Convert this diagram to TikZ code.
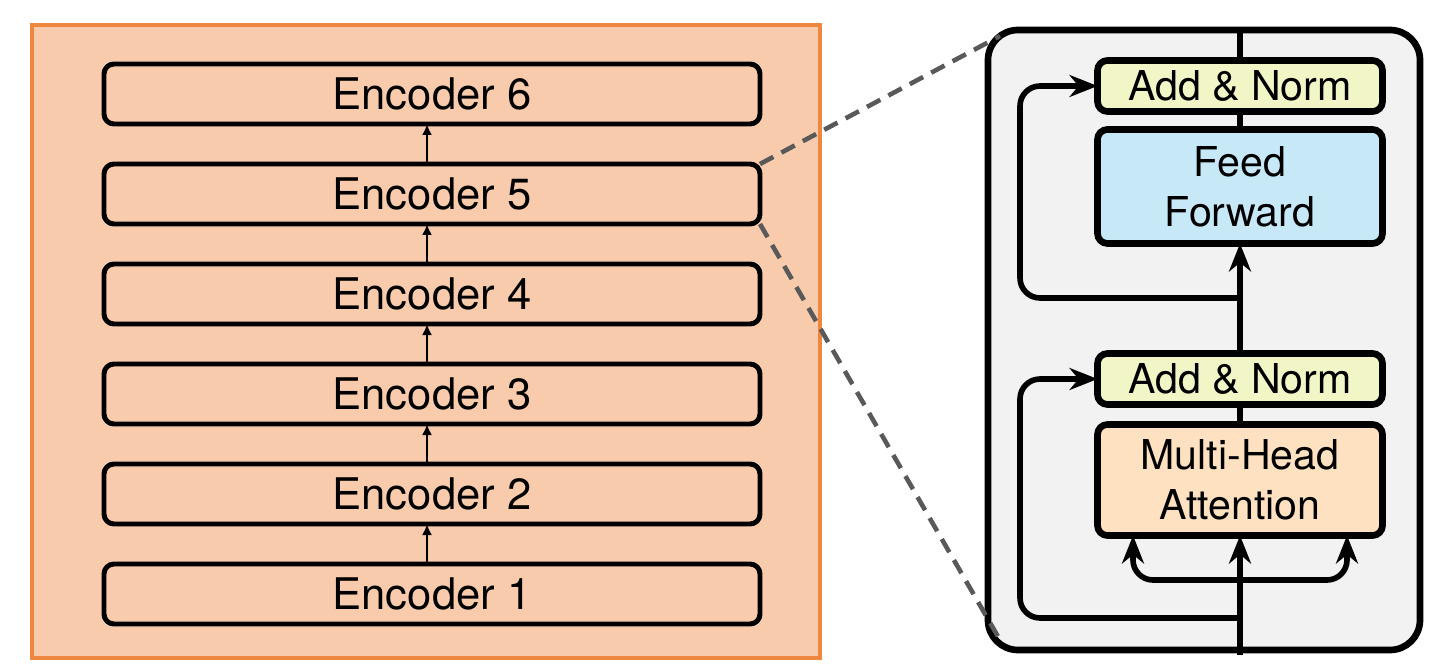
\documentclass[tikz,border=0pt]{standalone}
\usepackage{fontspec}
\setmainfont{TeX Gyre Heros}
\usepackage{xcolor}
\usepackage{tikz}
\usetikzlibrary{positioning,arrows.meta}

\definecolor{stackfill}{HTML}{F8CBAD}
\definecolor{stackline}{HTML}{EE8740}
\definecolor{panelfill}{HTML}{F2F2F2}
\definecolor{normfill}{HTML}{F2F5C6}
\definecolor{ffnfill}{HTML}{C6E8F7}
\definecolor{attnfill}{HTML}{FDE1C0}
\definecolor{zoomgray}{HTML}{595959}

\begin{document}
\begin{tikzpicture}[
  node distance=4mm,
  enc/.style={draw, line width=1.4pt, outer sep=0pt, rounded corners=1mm, minimum width=65.6mm, minimum height=6mm, inner sep=0pt, font=\fontsize{12.4}{14}\selectfont},
  block/.style={draw, line width=1.9pt, outer sep=0pt, rounded corners=1mm, minimum width=28.5mm, align=center, inner sep=0pt, font=\fontsize{11.7}{14.2}\selectfont},
  panel/.style={draw, line width=1.9pt, outer sep=0pt, fill=panelfill, rounded corners=3mm, minimum width=43.2mm, minimum height=62mm},
  stackarrow/.style={-{Latex[length=1.1mm,width=1mm]}, line width=0.6pt},
  flow/.style={-{Stealth[length=2.8mm,width=2.2mm,inset=0.9mm]}, line width=1.6pt, rounded corners=2mm},
  zoomlink/.style={dash pattern=on 4.3pt off 2.6pt, line width=1.3pt, zoomgray}
]
\useasboundingbox (0,0) rectangle (14.43,-6.70);

% encoder stack
\filldraw[fill=stackfill, draw=stackline, line width=1.1pt] (0.32,-0.25) rectangle (8.20,-6.58);
\node[enc] (enc1) at (4.32,-5.94) {Encoder 1};
\foreach \i [count=\p] in {2,...,6} {
  \node[enc, above=of enc\p] (enc\i) {Encoder \i};
  \draw[stackarrow] ([xshift=-0.5mm]enc\p.north) -- ([xshift=-0.5mm]enc\i.south);
}

% one encoder layer
\node[panel] (layer) at (12.04,-3.40) {};
\node[block, fill=attnfill, minimum height=11.1mm] (mha) at (12.40,-4.80) {Multi-Head\\Attention};
\node[block, fill=normfill, minimum height=5.1mm, above=2mm of mha] (norm1) {Add \& Norm};
\node[block, fill=ffnfill, minimum height=11.4mm, above=11mm of norm1] (ffn) {Feed\\Forward};
\node[block, fill=normfill, minimum height=5.1mm, above=1.8mm of ffn] (norm2) {Add \& Norm};
\coordinate (in) at (mha |- 0,-6.55);
\coordinate (out) at (mha |- layer.north);

\draw[flow] (in) -- (mha.south);
\draw[flow] (mha |- 0,-5.80) -| ([xshift=-10.7mm]mha.south);
\draw[flow] (mha |- 0,-5.80) -| ([xshift=10.7mm]mha.south);
\draw[flow] (mha |- 0,-6.18) -- ++(-22mm,0) |- (norm1.west);
\draw[line width=1.6pt] (mha.north) -- (norm1.south);
\draw[flow] (norm1.north) -- (ffn.south);
\draw[flow] (mha |- 0,-2.98) -- ++(-22mm,0) |- (norm2.west);
\draw[line width=1.6pt] (ffn.north) -- (norm2.south);
\draw[line width=1.6pt] (norm2.north) -- (out);

% zoom lines
\draw[zoomlink] (enc5.north east) -- ([shift={(1.2mm,-0.6mm)}]layer.north west);
\draw[zoomlink] (enc5.south east) -- ([shift={(1.2mm,1.0mm)}]layer.south west);
\end{tikzpicture}
\end{document}
